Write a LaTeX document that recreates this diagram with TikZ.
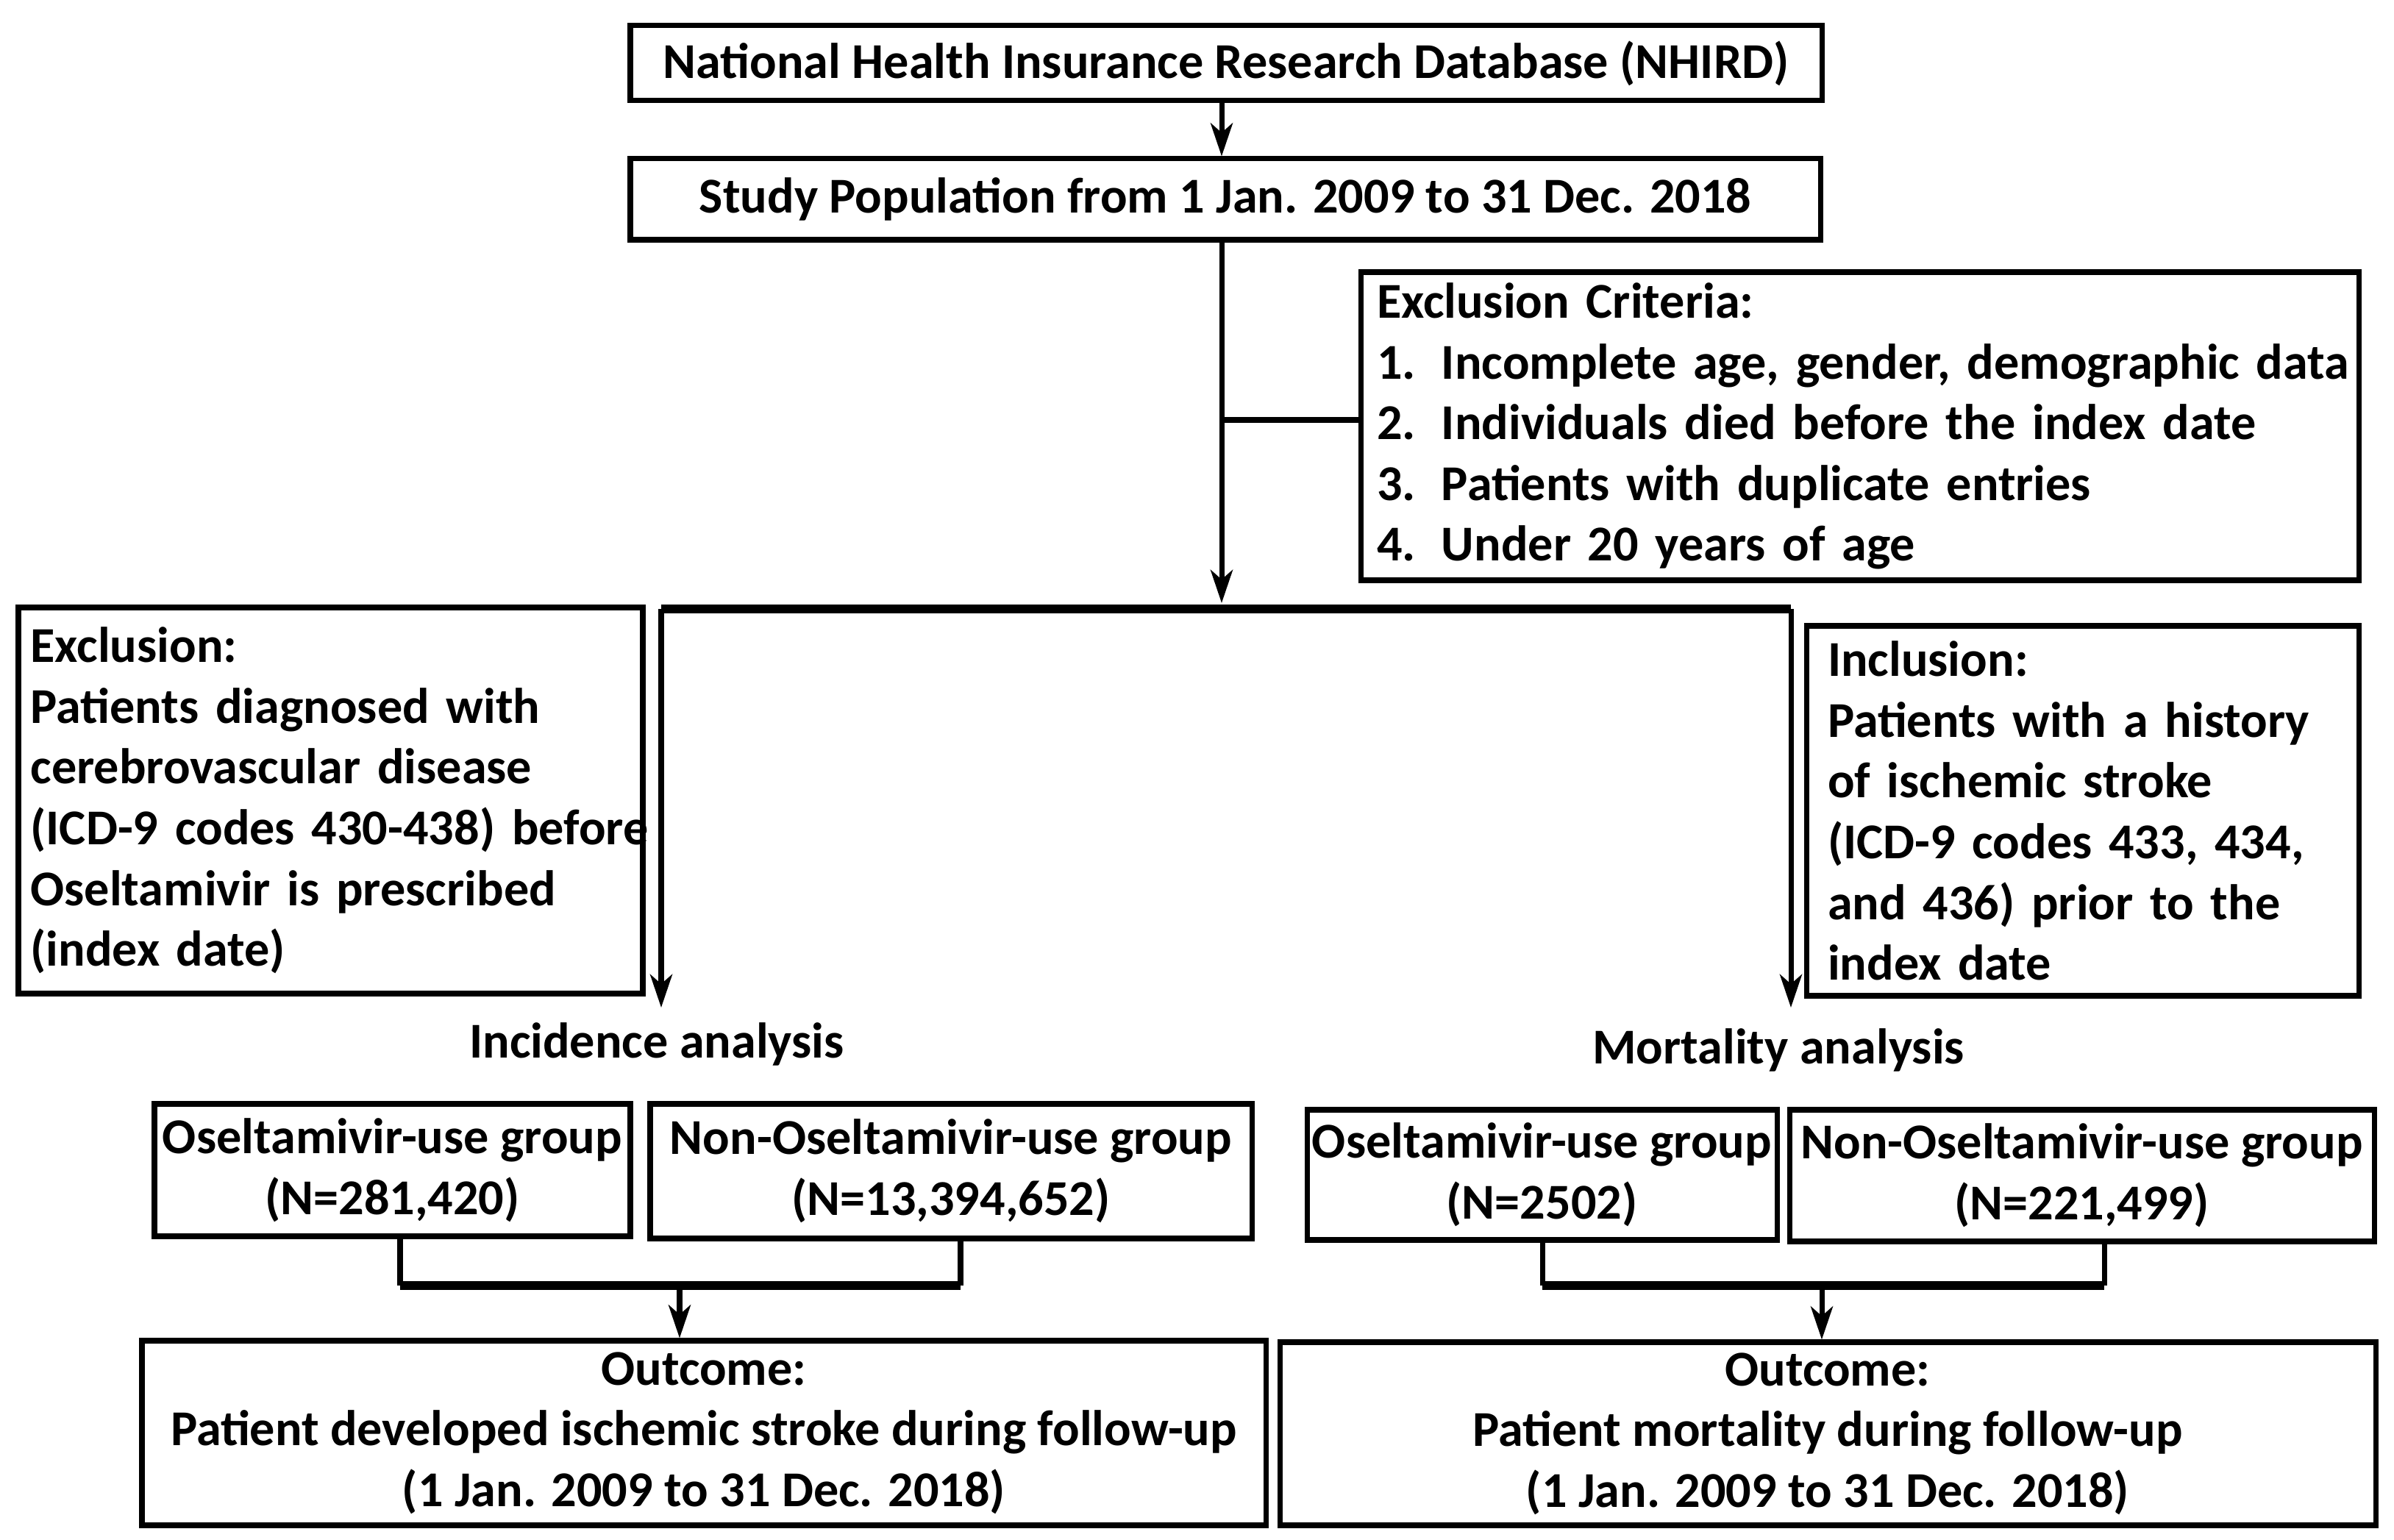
\documentclass[tikz,border=0pt]{standalone}
\usepackage{fontspec}
\setmainfont{Carlito}
\usetikzlibrary{arrows.meta,calc}
\begin{document}
\begin{tikzpicture}[x=1cm,y=-1cm,
  txt/.style={font=\fontsize{19.4}{23.5}\selectfont\bfseries},
  box/.style={draw,line width=2pt,inner sep=0pt,txt,align=center},
  lbox/.style={draw,line width=2pt,inner ysep=0pt,txt,align=left},
  thin/.style={line width=2pt},
  thick/.style={line width=3.4pt},
  arr/.style={line width=2pt,-{Stealth[length=0.45cm,width=0.3cm,inset=0.13cm]}}]
\fill[white] (0,0) rectangle (32.55,20.94);
\useasboundingbox (0,0) rectangle (32.55,20.94);

\node[box,minimum width=16.20cm,minimum height=1.02cm] (nhird) at (16.67,0.86) {National Health Insurance Research Database (NHIRD)};
\node[box,minimum width=16.18cm,minimum height=1.10cm] (study) at (16.66,2.71) {Study Population from 1 Jan. 2009 to 31 Dec. 2018};

\node[lbox,inner xsep=0.22cm,text width=13.13cm,minimum height=4.19cm] (crit) at (25.285,5.795)
 {\mbox{Exclusion Criteria:}\\
  \mbox{\makebox[0.88cm][l]{1.}Incomplete age, gender, demographic data}\\
  \mbox{\makebox[0.88cm][l]{2.}Individuals died before the index date}\\
  \mbox{\makebox[0.88cm][l]{3.}Patients with duplicate entries}\\
  \mbox{\makebox[0.88cm][l]{4.}Under 20 years of age}};

\node[lbox,inner xsep=0.165cm,text width=8.16cm,minimum height=5.25cm] (exl) at (4.495,10.885)
 {\mbox{Exclusion:}\\\mbox{Patients diagnosed with}\\\mbox{cerebrovascular disease}\\\mbox{(ICD-9 codes 430-438) before}\\\mbox{Oseltamivir is prescribed}\\\mbox{(index date)}};

\node[lbox,inner xsep=0.29cm,text width=6.93cm,minimum height=5.03cm] (incl) at (28.315,11.025)
 {\mbox{Inclusion:}\\\mbox{Patients with a history}\\\mbox{of ischemic stroke}\\\mbox{(ICD-9 codes 433, 434,}\\\mbox{and 436) prior to the}\\\mbox{index date}};

\node[txt] (inc) at (8.93,14.20) {Incidence analysis};
\node[txt] (mor) at (24.18,14.28) {Mortality analysis};

\node[box,minimum width=6.47cm,minimum height=1.80cm] (osL) at (5.335,15.91) {Oseltamivir-use group\\(N=281,420)};
\node[box,minimum width=8.18cm,minimum height=1.83cm] (nonL) at (12.93,15.925) {Non-Oseltamivir-use group\\(N=13,394,652)};
\node[box,minimum width=15.28cm,minimum height=2.51cm] (outL) at (9.57,19.485) {Outcome:\\Patient developed ischemic stroke during follow-up\\(1 Jan. 2009 to 31 Dec. 2018)};

\node[box,minimum width=6.39cm,minimum height=1.77cm] (osR) at (20.965,15.975) {Oseltamivir-use group\\(N=2502)};
\node[box,minimum width=7.95cm,minimum height=1.79cm] (nonR) at (28.305,15.985) {Non-Oseltamivir-use group\\(N=221,499)};
\node[box,minimum width=14.90cm,minimum height=2.49cm] (outR) at (24.85,19.495) {Outcome:\\Patient mortality during follow-up\\(1 Jan. 2009 to 31 Dec. 2018)};

% top arrow
\coordinate (a1) at (16.61,1.37);
\draw[arr] (a1) -- (a1 |- study.north);
% main trunk
\coordinate (t0) at (16.61,3.26);
\coordinate (tend) at (16.61,8.20);
\draw[arr] (t0) -- (tend);
\draw[thin] (16.61,5.71) -- (16.61,5.71 -| crit.west);
% split
\coordinate (sl) at (8.99,8.28);
\coordinate (sr) at (24.35,8.28);
\draw[thick] (sl) -- (sr);
\coordinate (el) at (8.99,13.70);
\coordinate (er) at (24.35,13.70);
\draw[arr] (sl) -- (el);
\draw[arr] (sr) -- (er);

% left bracket
\coordinate (bl1) at (5.44,17.48);
\coordinate (bl2) at (13.06,17.48);
\draw[thin] (bl1 |- osL.south) -- (bl1);
\draw[thin] (bl2 |- nonL.south) -- (bl2);
\draw[thick] (bl1) -- (bl2);
\coordinate (bl3) at (9.24,17.48);
\draw[arr] (bl3) -- (bl3 |- outL.north);

% right bracket
\coordinate (br1) at (20.97,17.48);
\coordinate (br2) at (28.61,17.48);
\draw[thin] (br1 |- osR.south) -- (br1);
\draw[thin] (br2 |- nonR.south) -- (br2);
\draw[thick] (br1) -- (br2);
\coordinate (br3) at (24.77,17.48);
\draw[arr] (br3) -- (br3 |- outR.north);
\end{tikzpicture}
\end{document}
